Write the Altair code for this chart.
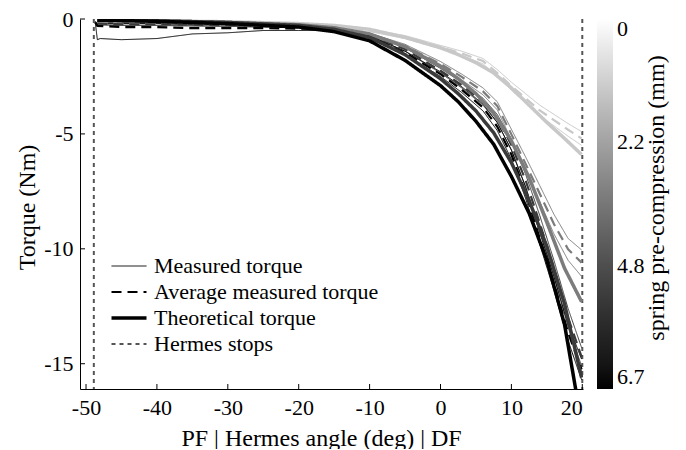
import altair as alt
import pandas as pd

# ---------------- data ----------------
x_ticks = [-50, -40, -30, -20, -10, 0, 10, 20]
y_ticks = [-15, -10, -5, 0]
precompressions = [0, 2.2, 4.8, 6.7]
cbar_labels = ["0", "2.2", "4.8", "6.7"]
cbar_title = ["spring pre-compression (mm)"]
kinds = ["Measured torque", "Average measured torque", "Theoretical torque", "Hermes stops"]
hermes_stops = [-48.9, 20.0]

# theoretical torque curves
theo_x = [-48.4, -40, -30, -20, -15, -10, -5, 0, 2.5, 5, 7.5, 10, 12.5, 15, 17.5, 19.9]
theo_0 = [-0.05, -0.08, -0.12, -0.2, -0.28, -0.45, -0.8, -1.25, -1.55, -1.9, -2.35, -3.0, -3.75, -4.5, -5.2, -5.9]
theo_2_2 = [-0.05, -0.08, -0.15, -0.25, -0.38, -0.65, -1.2, -2.05, -2.6, -3.25, -4.1, -5.3, -6.9, -8.85, -10.85, -12.3]
theo_4_8 = [-0.05, -0.08, -0.15, -0.28, -0.45, -0.8, -1.55, -2.6, -3.25, -4.0, -4.95, -6.25, -7.9, -9.9, -12.4, -15.6]
theo_6_7 = [-0.05, -0.1, -0.2, -0.35, -0.55, -0.95, -1.8, -2.9, -3.6, -4.45, -5.45, -6.85, -8.45, -10.5, -13.3, -17.6]

# measured torque (two runs) and average, per pre-compression
meas_x = [-48.4, -45, -40, -35, -30, -25, -20, -15, -10, -5, 0, 3, 6, 8, 10, 12, 14, 16, 18, 19.9]
meas_0_a = [-0.1, -0.12, -0.12, -0.15, -0.15, -0.18, -0.2, -0.26, -0.45, -0.72, -1.15, -1.4, -1.72, -2.2, -2.75, -3.25, -3.75, -4.15, -4.55, -4.9]
meas_0_b = [-0.2, -0.22, -0.22, -0.25, -0.25, -0.28, -0.3, -0.36, -0.55, -0.85, -1.3, -1.6, -1.95, -2.5, -3.1, -3.65, -4.2, -4.65, -5.1, -5.5]
avg_0 = [-0.15, -0.17, -0.17, -0.2, -0.2, -0.23, -0.25, -0.31, -0.5, -0.78, -1.22, -1.5, -1.83, -2.35, -2.92, -3.45, -3.98, -4.4, -4.82, -5.2]

meas_2_2_a = [-0.15, -0.18, -0.18, -0.2, -0.22, -0.25, -0.28, -0.36, -0.62, -1.1, -1.85, -2.4, -3.0, -3.6, -4.8, -6.0, -7.25, -8.5, -9.55, -10.05]
meas_2_2_b = [-0.25, -0.28, -0.28, -0.3, -0.32, -0.35, -0.38, -0.46, -0.75, -1.25, -2.05, -2.65, -3.3, -3.95, -5.25, -6.6, -7.95, -9.35, -10.5, -11.2]
avg_2_2 = [-0.2, -0.23, -0.23, -0.25, -0.27, -0.3, -0.33, -0.41, -0.68, -1.18, -1.95, -2.52, -3.15, -3.78, -5.02, -6.3, -7.6, -8.92, -10.02, -10.6]

meas_4_8_a = [-0.15, -0.18, -0.18, -0.2, -0.22, -0.25, -0.28, -0.36, -0.65, -1.25, -2.15, -2.75, -3.45, -4.15, -5.25, -6.75, -8.55, -10.5, -12.6, -14.3]
meas_4_8_b = [-0.25, -0.28, -0.28, -0.3, -0.32, -0.35, -0.38, -0.45, -0.75, -1.4, -2.35, -3.0, -3.75, -4.5, -5.7, -7.3, -9.2, -11.2, -13.4, -15.1]
avg_4_8 = [-0.2, -0.23, -0.23, -0.25, -0.27, -0.3, -0.33, -0.4, -0.7, -1.32, -2.25, -2.88, -3.6, -4.32, -5.48, -7.02, -8.88, -10.85, -13.0, -14.7]

meas_6_7_a_x = [-48.7, -48.4, -45, -40, -35, -30, -25, -20, -15, -10, -5, 0, 3, 6, 8, 10, 12, 14, 16, 18, 19.9]
meas_6_7_a = [-0.1, -0.2, -0.2, -0.2, -0.25, -0.25, -0.3, -0.33, -0.4, -0.72, -1.4, -2.3, -2.95, -3.7, -4.5, -5.7, -7.3, -9.3, -11.2, -13.3, -14.8]
meas_6_7_b_x = [-48.7, -48.4, -48.0, -45, -40, -35, -30, -25, -20, -15, -10, -5, 0, 3, 6, 8, 10, 12, 14, 16, 18, 19.9]
meas_6_7_b = [-0.15, -0.9, -0.85, -0.9, -0.85, -0.65, -0.6, -0.5, -0.5, -0.5, -0.85, -1.55, -2.5, -3.2, -4.0, -4.85, -6.1, -7.8, -9.8, -11.8, -14.0, -15.7]
avg_6_7 = [-0.15, -0.3, -0.35, -0.35, -0.4, -0.4, -0.4, -0.42, -0.45, -0.78, -1.47, -2.4, -3.08, -3.85, -4.68, -5.9, -7.55, -9.55, -11.5, -13.65, -15.25]

# ---------------- table ----------------
rows = []


def add(pre, kind, run, xs, ys):
    for a, t in zip(xs, ys):
        rows.append({"angle": a, "torque": t, "pre": pre, "kind": kind,
                     "series": f"{pre}|{kind}|{run}"})


M, A, T = kinds[0], kinds[1], kinds[2]
add(0, M, "a", meas_x, meas_0_a)
add(0, M, "b", meas_x, meas_0_b)
add(0, A, "avg", meas_x, avg_0)
add(0, T, "th", theo_x, theo_0)
add(2.2, M, "a", meas_x, meas_2_2_a)
add(2.2, M, "b", meas_x, meas_2_2_b)
add(2.2, A, "avg", meas_x, avg_2_2)
add(2.2, T, "th", theo_x, theo_2_2)
add(4.8, M, "a", meas_x, meas_4_8_a)
add(4.8, M, "b", meas_x, meas_4_8_b)
add(4.8, A, "avg", meas_x, avg_4_8)
add(4.8, T, "th", theo_x, theo_4_8)
add(6.7, M, "a", meas_6_7_a_x, meas_6_7_a)
add(6.7, M, "b", meas_6_7_b_x, meas_6_7_b)
add(6.7, A, "avg", meas_6_7_a_x, avg_6_7)
add(6.7, T, "th", theo_x, theo_6_7)
df = pd.DataFrame(rows)

stops_df = pd.DataFrame({"angle": hermes_stops, "kind": [kinds[3]] * len(hermes_stops)})
n_lv = len(precompressions)
cb_df = pd.DataFrame({"level": list(range(n_lv))})

# ---------------- styles ----------------
FONT = "Liberation Serif, Times New Roman, DejaVu Serif, serif"
LBL, TTL = 22, 24
W, H = 503, 370
shades = ["#c8c8c8", "#7c7c7c", "#3a3a3a", "#000000"]
dashes = [[1, 0], [10, 6], [1, 0], [4, 4]]
minus_expr = "datum.value < 0 ? '-' + abs(datum.value) : '' + datum.value"
xtitle = "PF | Hermes angle (deg) | DF"

x_enc = alt.X("angle:Q", scale=alt.Scale(domain=[-50.85, 20.1], nice=False, zero=False),
              axis=alt.Axis(values=x_ticks, title=xtitle, labelExpr=minus_expr, ticks=False,
                            labelPadding=8, grid=False, titleX=241, titleY=56,
                            titleBaseline="alphabetic"))
y_enc = alt.Y("torque:Q", scale=alt.Scale(domain=[-16.1, 0], nice=False, zero=False),
              axis=alt.Axis(values=y_ticks, title="Torque (Nm)", labelExpr=minus_expr, ticks=False,
                            labelPadding=7, grid=False, titleX=-53, titleY=188, titleAngle=270,
                            titleBaseline="middle", titleAlign="center"))

stroke_enc = alt.Stroke("pre:Q", scale=alt.Scale(domain=precompressions, range=shades), legend=None)

width_expr = ("datum.value == '%s' ? 3.5 : datum.value == '%s' ? 1 : 2" % (kinds[2], kinds[0]))
color_expr = "datum.value == '%s' ? '#555555' : '#000000'" % kinds[3]
dash_enc = alt.StrokeDash(
    "kind:N", scale=alt.Scale(domain=kinds, range=dashes),
    legend=alt.Legend(title=None, orient="none", legendX=38, legendY=236, symbolType="stroke",
                      symbolSize=1225, symbolStrokeWidth=alt.ExprRef(expr=width_expr),
                      symbolStrokeColor=alt.ExprRef(expr=color_expr),
                      labelFontSize=LBL, labelFont=FONT, labelColor="black", labelLimit=0,
                      labelOffset=14, rowPadding=4, padding=0))

# colorbar labels: level 0 -> last pre-compression (black), top level -> 0 (white)
cb_parts = []
for i, lab in enumerate(cbar_labels):
    cb_parts.append("datum.value == %d ? '%s'" % (n_lv - 1 - i, lab))
cb_expr = " : ".join(cb_parts) + " : ''"

base = alt.Chart(df)
measured = base.transform_filter(alt.datum.kind == M).mark_line(strokeWidth=1, clip=True).encode(
    x=x_enc, y=y_enc, stroke=stroke_enc, strokeDash=dash_enc, detail="series:N")
average = base.transform_filter(alt.datum.kind == A).mark_line(strokeWidth=2.2, clip=True).encode(
    x=x_enc, y=y_enc, stroke=stroke_enc, strokeDash=dash_enc, detail="series:N")
theory = base.transform_filter(alt.datum.kind == T).mark_line(strokeWidth=3.5, clip=True).encode(
    x=x_enc, y=y_enc, stroke=stroke_enc, strokeDash=dash_enc, detail="series:N")

stops = alt.Chart(stops_df).mark_rule(color="#555555", strokeWidth=2).encode(
    x=x_enc, strokeDash=dash_enc)

xt = alt.Chart(pd.DataFrame({"angle": x_ticks})).mark_rule(color="black", strokeWidth=1).encode(
    x=x_enc, y=alt.value(H), y2=alt.value(H - 5))
yt = alt.Chart(pd.DataFrame({"torque": y_ticks})).mark_rule(color="black", strokeWidth=1).encode(
    y=y_enc, x=alt.value(0), x2=alt.value(5))

cbar = alt.Chart(cb_df).mark_point(size=0, strokeWidth=0, filled=True, opacity=1).encode(
    color=alt.Color("level:Q", scale=alt.Scale(domain=[0, n_lv - 1], range=["#000000", "#ffffff"]),
                    legend=alt.Legend(title=None, orient="none",
                                      legendX=517, legendY=0, direction="vertical",
                                      gradientLength=H, gradientThickness=16,
                                      values=list(range(n_lv)), labelExpr=cb_expr,
                                      labelFontSize=LBL, labelFont=FONT, labelColor="black",
                                      labelOffset=4, labelOverlap=False, gradientOpacity=1,
                                      gradientStrokeWidth=0, padding=0)))

cbar_text = alt.Chart(pd.DataFrame({"t": cbar_title})).mark_text(
    angle=270, font=FONT, fontSize=TTL, color="black", align="center", baseline="middle").encode(
    text="t:N", x=alt.value(W + 74), y=alt.value(H / 2 - 6))

chart = alt.layer(stops, measured, average, theory, xt, yt, cbar, cbar_text).properties(
    width=W, height=H,
    autosize=alt.AutoSizeParams(type="none"),
    padding={"left": 72, "top": 11, "right": 95, "bottom": 60},
).configure(font=FONT).configure_view(stroke=None).configure_axis(
    labelFont=FONT, titleFont=FONT, labelFontSize=LBL, titleFontSize=TTL,
    labelColor="black", titleColor="black", titleFontWeight="normal",
    domainColor="black", domainWidth=1,
)

chart.save("out.html", embed_options={"renderer": "svg", "actions": False})
